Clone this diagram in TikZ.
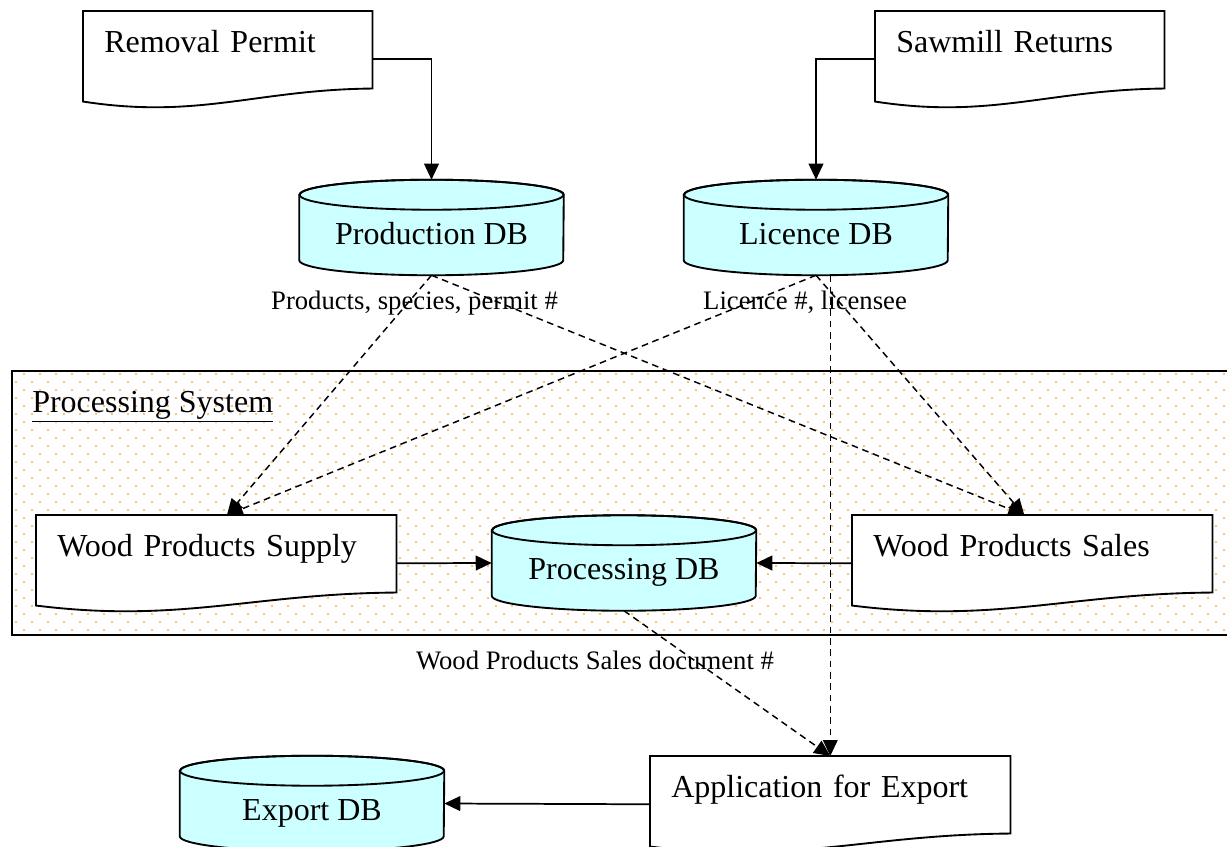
\documentclass[tikz,border=0pt]{standalone}
\usepackage{fontspec}
\setmainfont{Liberation Serif}
\usetikzlibrary{arrows.meta,patterns,calc}

\definecolor{dbcyan}{RGB}{204,255,255}
\definecolor{dotorange}{RGB}{255,172,60}

% staggered dots for the system area
\pgfdeclarepatternformonly{procdots}{\pgfqpoint{-1pt}{-1pt}}{\pgfqpoint{11pt}{11pt}}{\pgfqpoint{12pt}{12pt}}{
  \pgfpathcircle{\pgfqpoint{0pt}{0pt}}{0.9pt}
  \pgfpathcircle{\pgfqpoint{6pt}{6pt}}{0.9pt}
  \pgfusepath{fill}
}

\pgfdeclarelayer{arealayer}
\pgfdeclarelayer{doclayer}
\pgfsetlayers{arealayer,doclayer,main}

\tikzset{
  docbox/.style={anchor=north west, inner xsep=15.75pt, inner ysep=0pt,
    text height=30.75pt, text depth=41.25pt, align=left,
    font=\fontsize{24}{28}\selectfont},
  docline/.style={draw, fill=white, line width=1.4pt},
  dbox/.style={minimum width=198pt, minimum height=71.25pt, inner sep=0pt,
    text height=24.75pt, text depth=0pt, font=\fontsize{24}{28}\selectfont},
  dbline/.style={draw, fill=dbcyan, line width=1.4pt},
  flow/.style={-{Triangle[length=12pt,width=11pt]}, line width=1.3pt},
  dataflow/.style={flow, line width=1.1pt, dash pattern=on 5pt off 3.5pt},
  flowlabel/.style={font=\fontsize{20}{24}\selectfont, inner sep=0pt}
}

\begin{document}
\begin{tikzpicture}[x=0.75pt, y=-0.75pt]
\useasboundingbox (0,0) rectangle (1227,846);

% processing system area
\begin{pgfonlayer}{arealayer}
\draw[line width=1.4pt, pattern=procdots, pattern color=dotorange] (12,371) rectangle (1229,635);
\end{pgfonlayer}
\node[anchor=base west, inner sep=0pt, font=\fontsize{24}{28}\selectfont] (systitle) at (32,412) {\underline{Processing System}};

% documents
\node[docbox, text width=185.25pt] (permit) at (83,11) {Removal Permit};
\node[docbox, text width=185.25pt] (returns) at (875,11) {Sawmill Returns};
\node[docbox, text width=238.5pt] (supply) at (36,515) {Wood Products Supply};
\node[docbox, text width=238.5pt] (sales) at (852,515) {Wood Products Sales};
\node[docbox, text width=238.5pt] (appexp) at (650,756) {Application for Export};

% databases
\node[dbox] (proddb) at (431.5,227.5) {Production DB};
\node[dbox] (licdb) at (816,227.5) {Licence DB};
\node[dbox] (procdb) at (624,563) {Processing DB};
\node[dbox] (expdb) at (312,803.5) {Export DB};

\begin{pgfonlayer}{doclayer}
\foreach \d in {permit,returns,supply,sales,appexp}
  \draw[docline] (\d.north west) -- (\d.north east) -- ($(\d.south east)+(0,-19)$)
    .. controls ($(\d.south west)!0.6!(\d.south east)+(0,-18)$)
    and ($(\d.south west)!0.4!(\d.south east)+(0,12)$)
    .. ($(\d.south west)+(0,-6)$) -- cycle;
\foreach \c in {proddb,licdb,procdb,expdb} {
  \draw[dbline] ($(\c.north west)+(0,15)$) -- ($(\c.south west)+(0,-15)$)
    arc[start angle=180, end angle=0, x radius=132, y radius=15]
    -- ($(\c.north east)+(0,15)$)
    arc[start angle=0, end angle=-180, x radius=132, y radius=15] -- cycle;
  \draw[line width=1.4pt] ($(\c.north)+(0,15)$) ellipse[x radius=132, y radius=15];
}
\end{pgfonlayer}

% labels
\node[flowlabel, anchor=base] (prodinfo) at (414.5,309) {Products, species, permit \#};
\node[flowlabel, anchor=base] (licinfo) at (805,309) {Licence \#, licensee};
\node[flowlabel, anchor=base] (salesinfo) at (595,669) {Wood Products Sales document \#};

% flows
\draw[flow] (permit.east) -| (proddb.north);
\draw[flow] (returns.west) -| (licdb.north);
\draw[dataflow] (proddb.south) -- ([xshift=8pt]supply.north);
\draw[dataflow] (proddb.south) -- ([xshift=-6pt]sales.north);
\draw[dataflow] (licdb.south) -- ([xshift=8pt]supply.north);
\draw[dataflow] (licdb.south) -- ([xshift=-6pt]sales.north);
\draw[flow] (supply.east) -- (procdb.west);
\draw[flow] (sales.west) -- (procdb.east);
\draw[dataflow] (procdb.south) -- (appexp.north);
\draw[dataflow] (appexp.north |- licdb.south) -- (appexp.north);
\draw[flow] (appexp.west) -- (expdb.east);
\end{tikzpicture}
\end{document}
